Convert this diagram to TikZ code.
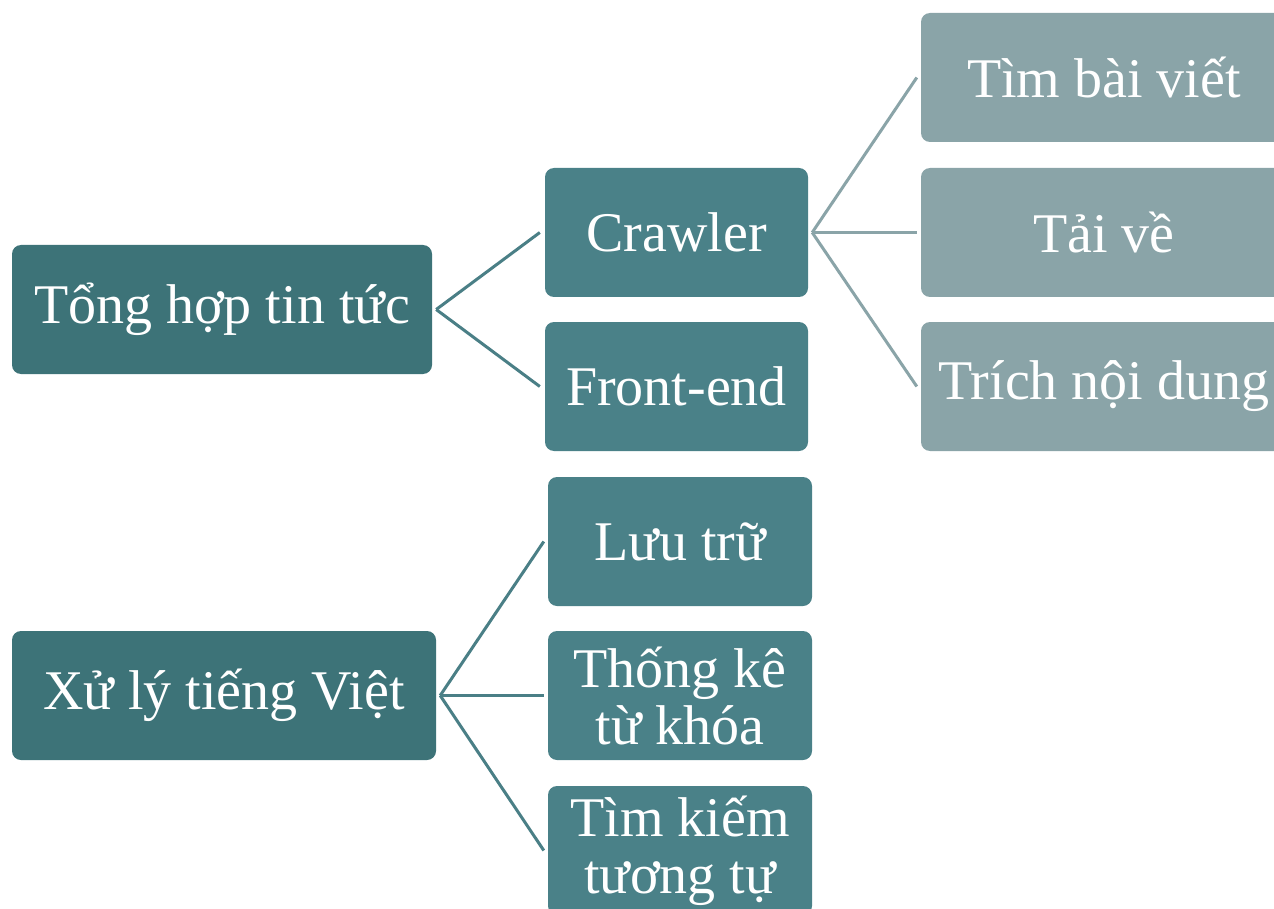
\documentclass[tikz,border=0pt]{standalone}
\usepackage{fontspec}
\setmainfont{Liberation Serif}
\definecolor{rootc}{RGB}{61,115,120}
\definecolor{midc}{RGB}{74,129,136}
\definecolor{leafc}{RGB}{138,164,168}
\definecolor{linec}{RGB}{74,127,134}
\definecolor{leafline}{RGB}{138,164,168}
\tikzset{
  box/.style={rectangle, rounded corners=9pt, text=white, align=center,
    minimum height=129pt, inner sep=0pt, font=\fontsize{56}{57}\selectfont},
  rootbox/.style={box, fill=rootc, minimum width=420pt},
  midbox/.style={box, fill=midc, minimum width=264pt},
  leafbox/.style={box, fill=leafc, minimum width=366pt},
  conn/.style={draw=linec, line width=3pt},
  leafconn/.style={draw=leafline, line width=3pt}
}
\begin{document}
\begin{tikzpicture}[x=1pt,y=-1pt]
\useasboundingbox (0,0) rectangle (1274,909);
\clip (0,0) rectangle (1274,909);
\fill[white] (0,0) rectangle (1274,909);
\node[rootbox] (r1) at (222,309.5) {Tổng hợp tin tức};
\node[rootbox, minimum width=424pt] (r2) at (224,695.5) {Xử lý tiếng Việt};
\node[midbox, minimum width=263pt] (crawl) at (676.5,232.5) {Crawler};
\node[midbox, minimum width=263pt] (front) at (676.5,386.5) {Front-end};
\node[midbox] (luu) at (680,541.5) {Lưu trữ};
\node[midbox] (tk) at (680,695.5) {Thống kê\\từ khóa};
\node[midbox] (tim) at (680,850.5) {Tìm kiếm\\tương tự};
\node[leafbox] (tbv) at (1104,77.5) {Tìm bài viết};
\node[leafbox] (tai) at (1104,232.5) {Tải về};
\node[leafbox] (trich) at (1104,386.5) {Trích nội dung};
\draw[conn] ([xshift=4pt]r1.east) -- ([xshift=-5pt]crawl.west);
\draw[conn] ([xshift=4pt]r1.east) -- ([xshift=-5pt]front.west);
\draw[conn] ([xshift=4pt]r2.east) -- ([xshift=-4pt]luu.west);
\draw[conn] ([xshift=4pt]r2.east) -- ([xshift=-4pt]tk.west);
\draw[conn] ([xshift=4pt]r2.east) -- ([xshift=-4pt]tim.west);
\draw[leafconn] ([xshift=4pt]crawl.east) -- ([xshift=-4pt]tbv.west);
\draw[leafconn] ([xshift=4pt]crawl.east) -- ([xshift=-4pt]tai.west);
\draw[leafconn] ([xshift=4pt]crawl.east) -- ([xshift=-4pt]trich.west);
\end{tikzpicture}
\end{document}
